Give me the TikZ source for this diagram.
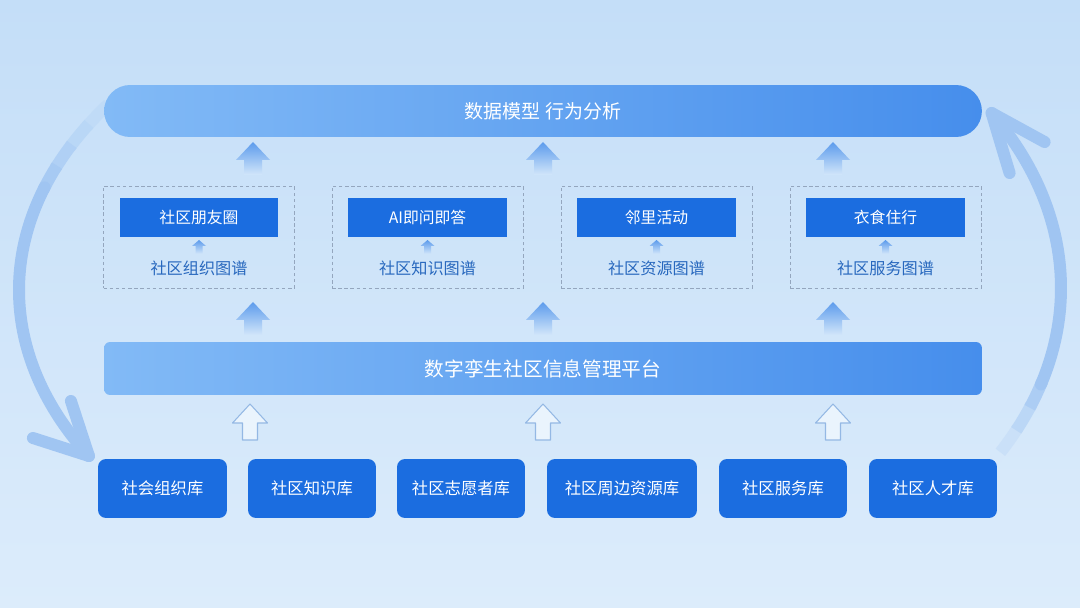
\documentclass[tikz,border=0pt]{standalone}
\usepackage{fontspec}
\newfontfamily\cjk{Noto Sans CJK SC}
\usetikzlibrary{calc}
\definecolor{bgtop}{RGB}{196,222,248}
\definecolor{bgbot}{RGB}{220,236,251}
\definecolor{bgmid}{RGB}{210,230,250}
\definecolor{barlight}{RGB}{130,186,246}
\definecolor{bardark}{RGB}{70,142,236}
\definecolor{deepblue}{RGB}{27,109,224}
\definecolor{maptext}{RGB}{40,104,190}
\definecolor{frameline}{RGB}{148,166,190}
\definecolor{loopblue}{RGB}{160,197,242}
\definecolor{hollowline}{RGB}{148,184,228}
\definecolor{arrowblue}{RGB}{92,155,236}
\def\solidup(#1,#2){\shade[top color=arrowblue, bottom color=bgmid] (#1,#2) -- ++(17,18) -- ++(-8,0) -- ++(0,15) -- ++(-18,0) -- ++(0,-15) -- ++(-8,0) -- cycle;}
\def\smallup(#1,#2){\shade[top color=arrowblue, bottom color=bgmid] (#1,#2) -- ++(7,6) -- ++(-3.5,0) -- ++(0,8) -- ++(-7,0) -- ++(0,-8) -- ++(-3.5,0) -- cycle;}
\def\hollowup(#1,#2){\draw[hollowline, fill=bgbot!60!white, line width=0.6pt, line join=round] (#1,#2) -- ++(17.5,19) -- ++(-10,0) -- ++(0,17) -- ++(-15,0) -- ++(0,-17) -- ++(-10,0) -- cycle;}

\begin{document}
\begin{tikzpicture}[x=0.02cm, y=-0.02cm,
	bar/.style={text=white, inner sep=0pt, minimum width=17.56cm, left color=barlight, right color=bardark},
	appbox/.style={fill=deepblue, text=white, inner sep=0pt, minimum width=3.18cm, minimum height=0.78cm, font=\cjk\fontsize{9}{11}\selectfont},
	mapframe/.style={draw=frameline, dash pattern=on 2pt off 1.5pt, line width=0.5pt, minimum width=3.82cm, minimum height=2.04cm},
	maplabel/.style={text=maptext, font=\cjk\fontsize{9.2}{11}\selectfont},
	libbox/.style={fill=deepblue, text=white, rounded corners=0.16cm, inner sep=0pt, minimum height=1.18cm, font=\cjk\fontsize{9.3}{11}\selectfont},
	loop/.style={line width=0.24cm, line cap=round, line join=round, color=loopblue}]
			%%%%% START %%%%%
			
			\useasboundingbox (0, 0) rectangle (1080, 608);
			\shade[top color=bgtop, bottom color=bgbot] (0, 0) rectangle (1080, 608);
			
			% big loop on the left
			\foreach \a/\p in {214/10, 210/30, 206/55, 202/80}
				\draw[line width=0.24cm, color=loopblue!\p!bgtop] (541, 290) ++(\a:522 and 332) arc[start angle=\a, end angle=\a-4.5, x radius=522, y radius=332];
			\draw[loop] (541, 290) ++(198:522 and 332) arc[start angle=198, end angle=150, x radius=522, y radius=332] coordinate (lefttip);
			\draw[loop] ($(lefttip)+(-56, -18)$) -- (lefttip) -- ($(lefttip)+(-18, -55)$);
			
			% big loop on the right
			\foreach \a/\p in {32/10, 28/30, 24/55, 20/80}
				\draw[line width=0.24cm, color=loopblue!\p!bgbot] (543, 288) ++(\a:518 and 350) arc[start angle=\a, end angle=\a-4.5, x radius=518, y radius=350];
			\draw[loop] (543, 288) ++(16:518 and 350) arc[start angle=16, end angle=-30, x radius=518, y radius=350] coordinate (righttip);
			\draw[loop] ($(righttip)+(53, 29)$) -- (righttip) -- ($(righttip)+(18, 60)$);
			
			\node[bar, minimum height=1.04cm, rounded corners=0.52cm, font=\cjk\fontsize{10.8}{12}\selectfont] (model) at (543, 111) {数据模型 行为分析};
			
			\solidup(253, 142)
			\solidup(543, 142)
			\solidup(833, 142)
			
			\node[mapframe] (frame1) at (199, 237) {};
			\node[mapframe] (frame2) at (427.5, 237) {};
			\node[mapframe] (frame3) at (656.5, 237) {};
			\node[mapframe] (frame4) at (885.5, 237) {};
			
			\node[appbox] (app1) at (199, 217.5) {社区朋友圈};
			\node[appbox] (app2) at (427.5, 217.5) {AI即问即答};
			\node[appbox] (app3) at (656.5, 217.5) {邻里活动};
			\node[appbox] (app4) at (885.5, 217.5) {衣食住行};
			
			\smallup(199, 240)
			\smallup(427.5, 240)
			\smallup(656.5, 240)
			\smallup(885.5, 240)
			
			\node[maplabel] (map1) at (199, 268) {社区组织图谱};
			\node[maplabel] (map2) at (427.5, 268) {社区知识图谱};
			\node[maplabel] (map3) at (656.5, 268) {社区资源图谱};
			\node[maplabel] (map4) at (885.5, 268) {社区服务图谱};
			
			\solidup(253, 302)
			\solidup(543, 302)
			\solidup(833, 302)
			
			\node[bar, minimum height=1.06cm, rounded corners=0.12cm, font=\cjk\fontsize{11.2}{13}\selectfont] (platform) at (543, 368.5) {数字孪生社区信息管理平台};
			
			\hollowup(250, 404)
			\hollowup(543, 404)
			\hollowup(833, 404)
			
			\node[libbox, minimum width=2.58cm] (lib1) at (162.5, 488.5) {社会组织库};
			\node[libbox, minimum width=2.56cm] (lib2) at (312, 488.5) {社区知识库};
			\node[libbox, minimum width=2.56cm] (lib3) at (461, 488.5) {社区志愿者库};
			\node[libbox, minimum width=3.00cm] (lib4) at (622, 488.5) {社区周边资源库};
			\node[libbox, minimum width=2.56cm] (lib5) at (783, 488.5) {社区服务库};
			\node[libbox, minimum width=2.56cm] (lib6) at (933, 488.5) {社区人才库};
			
			%%%%% END %%%%%
		\end{tikzpicture}
\end{document}
